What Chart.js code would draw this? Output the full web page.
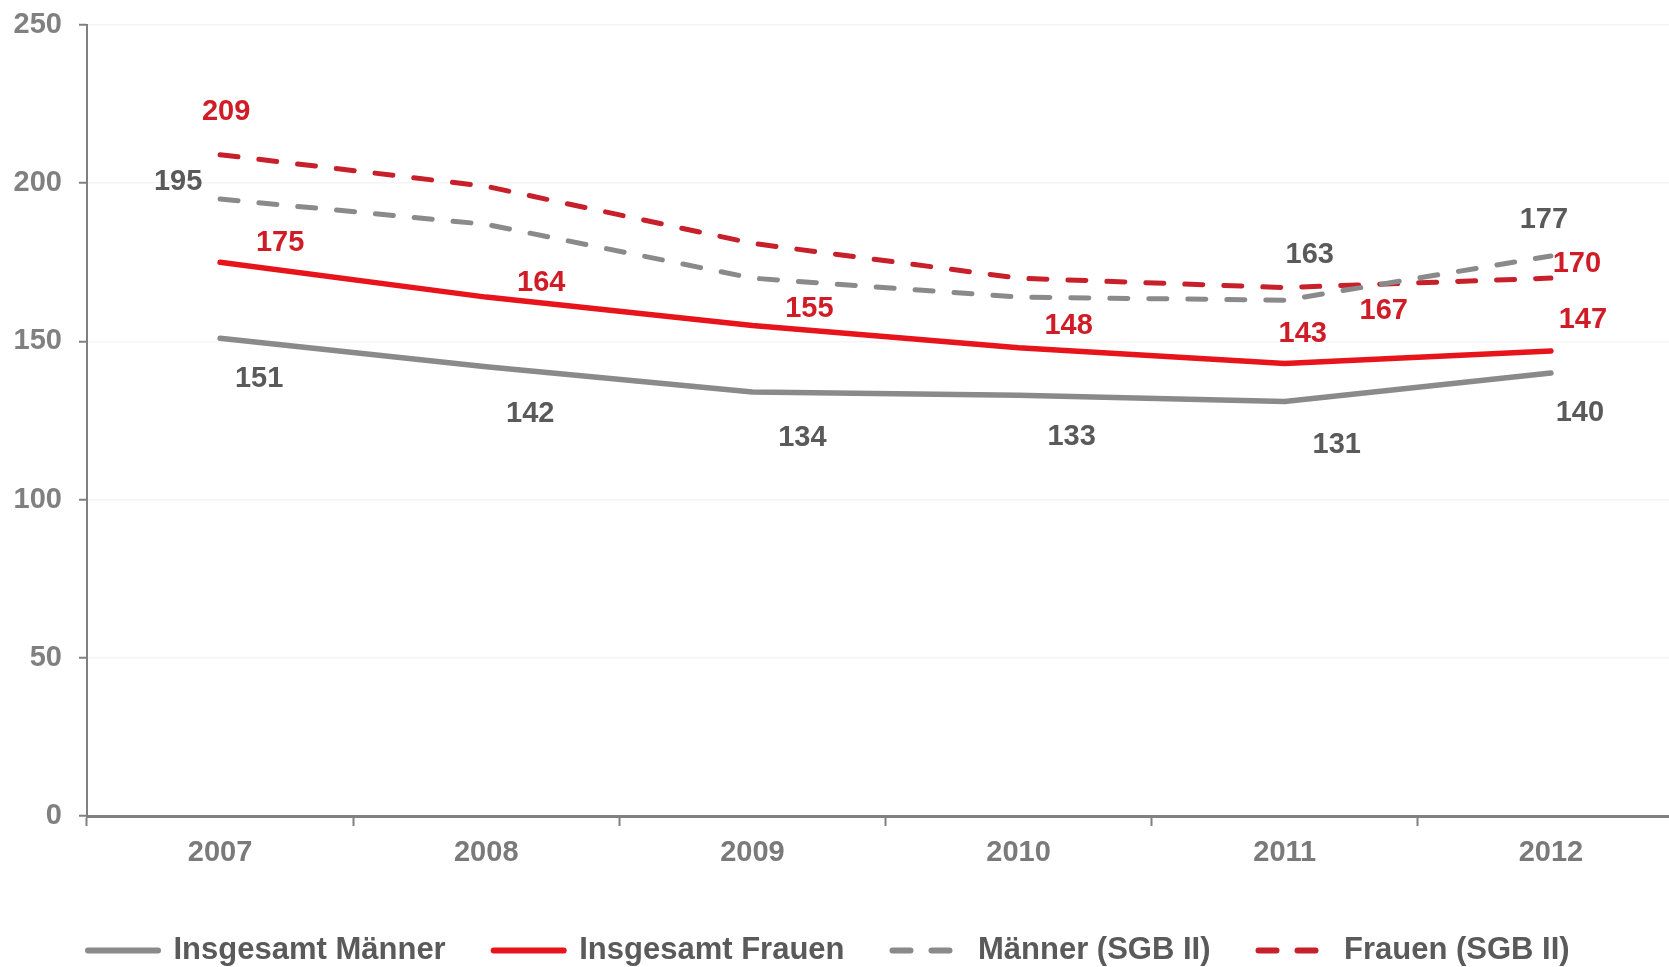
<!DOCTYPE html>
<html lang="de">
<head>
<meta charset="utf-8">
<title>Insgesamt und SGB II – Männer und Frauen 2007–2012</title>
<script src="https://cdn.jsdelivr.net/npm/chart.js@4"></script>
<style>
  html, body { margin: 0; padding: 0; background: #ffffff; overflow: hidden; }
  #wrap { width: 1684px; height: 976px; }
</style>
</head>
<body>
<div id="wrap"><canvas id="c" width="1684" height="976"></canvas></div>
<script>
// Jahre (Kategorien)
const years = ['2007', '2008', '2009', '2010', '2011', '2012'];

// Werte je Reihe
const insgesamtMaenner = [151, 142, 134, 133, 131, 140];
const insgesamtFrauen  = [175, 164, 155, 148, 143, 147];
const maennerSGB2      = [195, 187, 170, 164, 163, 177];
const frauenSGB2       = [209, 199, 181, 170, 167, 170];

// Beschriftete Punkte je Reihe (Indizes)
const labeledMaenner     = [0, 1, 2, 3, 4, 5];
const labeledFrauen      = [0, 1, 2, 3, 4, 5];
const labeledMaennerSGB2 = [0, 4, 5];
const labeledFrauenSGB2  = [0, 4, 5];

// Achsenteilung
const yTickValues = [0, 50, 100, 150, 200, 250];

// Farben und Schrift
const GREY_LINE = '#8a8a8a';
const RED_LINE = '#e8141c';
const RED_DASH = '#c8202a';
const GREY_TEXT = '#5a5a5a';
const RED_TEXT = '#d01c26';
const AXIS = '#808080';
const FONT = '"Liberation Sans", Arial, sans-serif';

// Verschiebung der Wertbeschriftung gegenüber dem Punkt (dx, dy in px)
const labelShift = [
  [[39, 41], [44, 47], [50, 46], [53, 42], [52, 43], [29, 40]],
  [[60, -19], [55, -14], [57, -17], [50, -22], [18, -30], [32, -31]],
  [[-42, -17], null, null, null, [25, -45], [-7, -36]],
  [[6, -43], null, null, null, [99, 23], [26, -14]]
];
const labelColors = [GREY_TEXT, RED_TEXT, GREY_TEXT, RED_TEXT];
const labeledIdx = [labeledMaenner, labeledFrauen, labeledMaennerSGB2, labeledFrauenSGB2];

// Zeichnet die Zahlenwerte neben die Linienpunkte
const valueLabels = {
  id: 'valueLabels',
  afterDatasetsDraw(chart) {
    const ctx = chart.ctx;
    ctx.save();
    ctx.font = 'bold 29px ' + FONT;
    ctx.textAlign = 'center';
    ctx.textBaseline = 'middle';
    chart.data.datasets.forEach((ds, di) => {
      const meta = chart.getDatasetMeta(di);
      labeledIdx[di].forEach(i => {
        const pt = meta.data[i];
        const sh = labelShift[di][i] || [0, -30];
        ctx.fillStyle = labelColors[di];
        ctx.fillText(String(ds.data[i]), pt.x + sh[0], pt.y + sh[1]);
      });
    });
    ctx.restore();
  }
};

// Legende unter der y-Achse beginnen lassen
const legendIndent = {
  id: 'legendIndent',
  afterLayout(chart) {
    if (chart.legend) {
      chart.legend.left += 40;
      chart.legend.right += 40;
    }
  }
};

new Chart(document.getElementById('c'), {
  type: 'line',
  data: {
    labels: years,
    datasets: [
      { label: 'Insgesamt Männer', data: insgesamtMaenner, borderColor: GREY_LINE, borderWidth: 5.5, borderCapStyle: 'round' },
      { label: 'Insgesamt Frauen', data: insgesamtFrauen, borderColor: RED_LINE, borderWidth: 5.5, borderCapStyle: 'round' },
      { label: 'Männer (SGB II)', data: maennerSGB2, borderColor: GREY_LINE, borderWidth: 5, borderDash: [18, 21], borderCapStyle: 'round' },
      { label: 'Frauen (SGB II)', data: frauenSGB2, borderColor: RED_DASH, borderWidth: 5, borderDash: [18, 21], borderCapStyle: 'round' }
    ]
  },
  options: {
    responsive: false,
    animation: false,
    events: [],
    layout: { padding: { top: 25, left: 0, right: 0, bottom: 0 } },
    elements: {
      point: { radius: 0, hoverRadius: 0 },
      line: { tension: 0, fill: false }
    },
    scales: {
      x: {
        type: 'category',
        offset: true,
        grid: {
          display: true,
          drawOnChartArea: false,
          drawTicks: true,
          tickLength: 10,
          tickColor: AXIS,
          tickWidth: 2,
          offset: true
        },
        border: { display: true, color: AXIS, width: 3 },
        ticks: {
          color: '#7a7a7a',
          font: { family: FONT, size: 29, weight: 'bold' },
          padding: 10,
          maxRotation: 0,
          autoSkip: false
        },
        afterFit(scale) { scale.height = 71; }
      },
      y: {
        min: 0,
        max: 250,
        afterBuildTicks(scale) { scale.ticks = yTickValues.map(v => ({ value: v })); },
        grid: {
          color: '#f5f5f5',
          lineWidth: 1.5,
          drawTicks: true,
          tickLength: 8,
          tickColor: AXIS,
          tickWidth: 2
        },
        border: { display: true, color: AXIS, width: 2 },
        ticks: {
          color: '#808080',
          font: { family: FONT, size: 29, weight: 'bold' },
          padding: 17
        },
        afterFit(scale) {
          scale.width = 87;
          scale.paddingTop = 0;
          scale.paddingBottom = 0;
        }
      }
    },
    plugins: {
      tooltip: { enabled: false },
      title: { display: false },
      legend: {
        display: true,
        position: 'bottom',
        align: 'start',
        labels: {
          usePointStyle: true,
          pointStyle: 'line',
          pointStyleWidth: 70,
          padding: 48,
          color: GREY_TEXT,
          font: { family: FONT, size: 31, weight: 'bold' },
          generateLabels(chart) {
            return chart.data.datasets.map((ds, i) => ({
              text: ds.label,
              fillStyle: ds.borderColor,
              strokeStyle: ds.borderColor,
              lineWidth: 6,
              lineDash: ds.borderDash || [],
              lineCap: 'round',
              pointStyle: 'line',
              fontColor: GREY_TEXT,
              hidden: false,
              datasetIndex: i
            }));
          }
        }
      }
    }
  },
  plugins: [valueLabels, legendIndent]
});
</script>
</body>
</html>
